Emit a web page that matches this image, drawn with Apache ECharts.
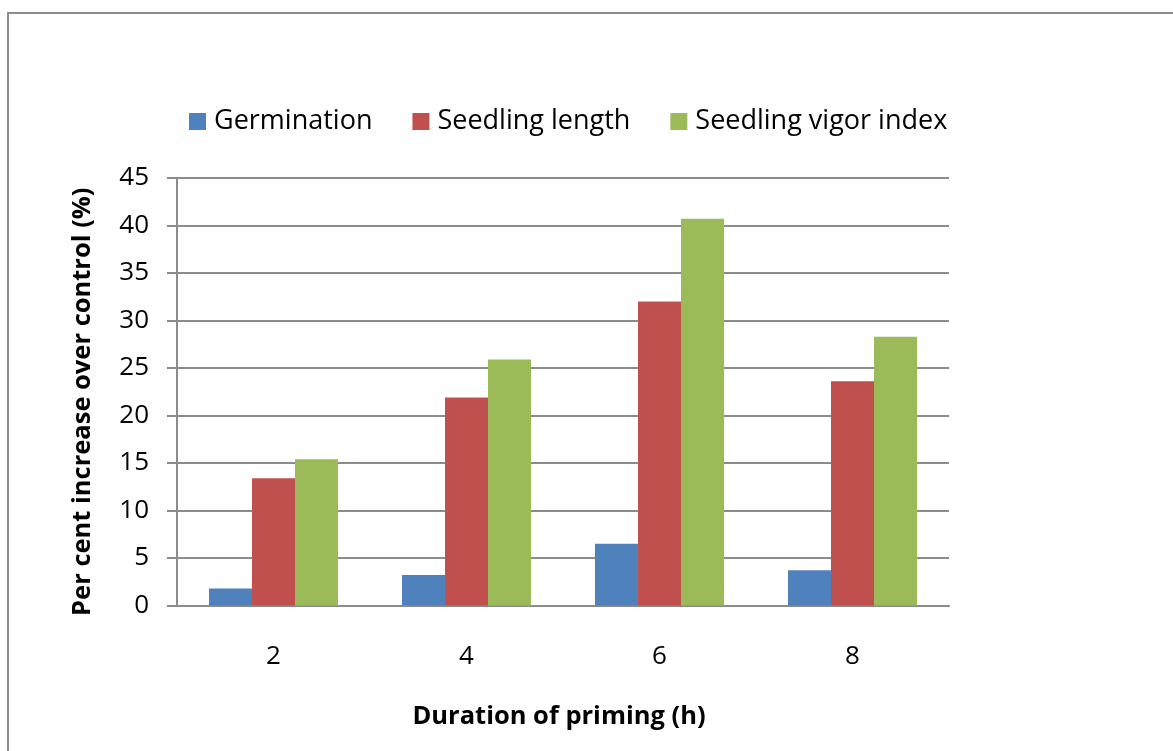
<!DOCTYPE html>
<html>
<head>
<meta charset="utf-8">
<script src="https://cdn.jsdelivr.net/npm/echarts@6/dist/echarts.min.js"></script>
<style>
  html, body { margin: 0; padding: 0; background: #fff; }
  #chart { width: 1173px; height: 751px; }
</style>
</head>
<body>
<div id="chart"></div>
<script>
// durations of priming (h)
const categories = ['2', '4', '6', '8']
// per cent increase over control
const germination = [1.8, 3.2, 6.5, 3.7]
const seedlingLength = [13.4, 21.9, 32.0, 23.6]
const vigorIndex = [15.4, 25.9, 40.7, 28.3]

const font = 'Open Sans'

const chart = echarts.init(document.getElementById('chart'))
chart.setOption({
    animation: false,
    textStyle: { fontFamily: font },
    graphic: [
        {
            type: 'rect',
            shape: { x: 8, y: 13, width: 1200, height: 800 },
            style: { fill: 'none', stroke: '#8c8c8c', lineWidth: 2 }
        }
    ],
    legend: {
        left: 184,
        top: 103,
        itemWidth: 17,
        itemHeight: 17,
        itemGap: 40,
        icon: 'rect',
        textStyle: { fontSize: 27, color: '#000', fontFamily: font, padding: [0, 0, 0, 3] },
        data: ['Germination', 'Seedling length', 'Seedling vigor index']
    },
    grid: { left: 177, right: 224, top: 178, bottom: 145.5, containLabel: false },
    xAxis: {
        type: 'category',
        data: categories,
        name: 'Duration of priming (h)',
        nameLocation: 'middle',
        nameGap: 98,
        nameTextStyle: { fontSize: 25.5, fontWeight: 'bold', color: '#000', fontFamily: font, padding: [0, 8, 0, 0] },
        axisLine: { lineStyle: { color: '#8c8c8c', width: 2 } },
        axisTick: { show: false },
        axisLabel: { fontSize: 26, color: '#000', margin: 38 }
    },
    yAxis: {
        type: 'value',
        min: 0,
        max: 45,
        interval: 5,
        name: 'Per cent increase over control (%)',
        nameLocation: 'middle',
        nameGap: 81,
        nameTextStyle: { fontSize: 25.5, fontWeight: 'bold', color: '#000', fontFamily: font, padding: [0, 20, 0, 0] },
        axisLine: { show: true, lineStyle: { color: '#8c8c8c', width: 2 } },
        axisTick: { show: true, length: 10, lineStyle: { color: '#8c8c8c', width: 2 } },
        axisLabel: { fontSize: 26, color: '#000', margin: 28 },
        splitLine: { lineStyle: { color: '#8c8c8c', width: 2 } }
    },
    series: [
        {
            name: 'Germination',
            type: 'bar',
            data: germination,
            barWidth: 43,
            barGap: '0%',
            itemStyle: { color: '#4F81BD' }
        },
        {
            name: 'Seedling length',
            type: 'bar',
            data: seedlingLength,
            barWidth: 43,
            barGap: '0%',
            itemStyle: { color: '#C0504D' }
        },
        {
            name: 'Seedling vigor index',
            type: 'bar',
            data: vigorIndex,
            barWidth: 43,
            barGap: '0%',
            itemStyle: { color: '#9BBB59' }
        }
    ]
})
</script>
</body>
</html>
